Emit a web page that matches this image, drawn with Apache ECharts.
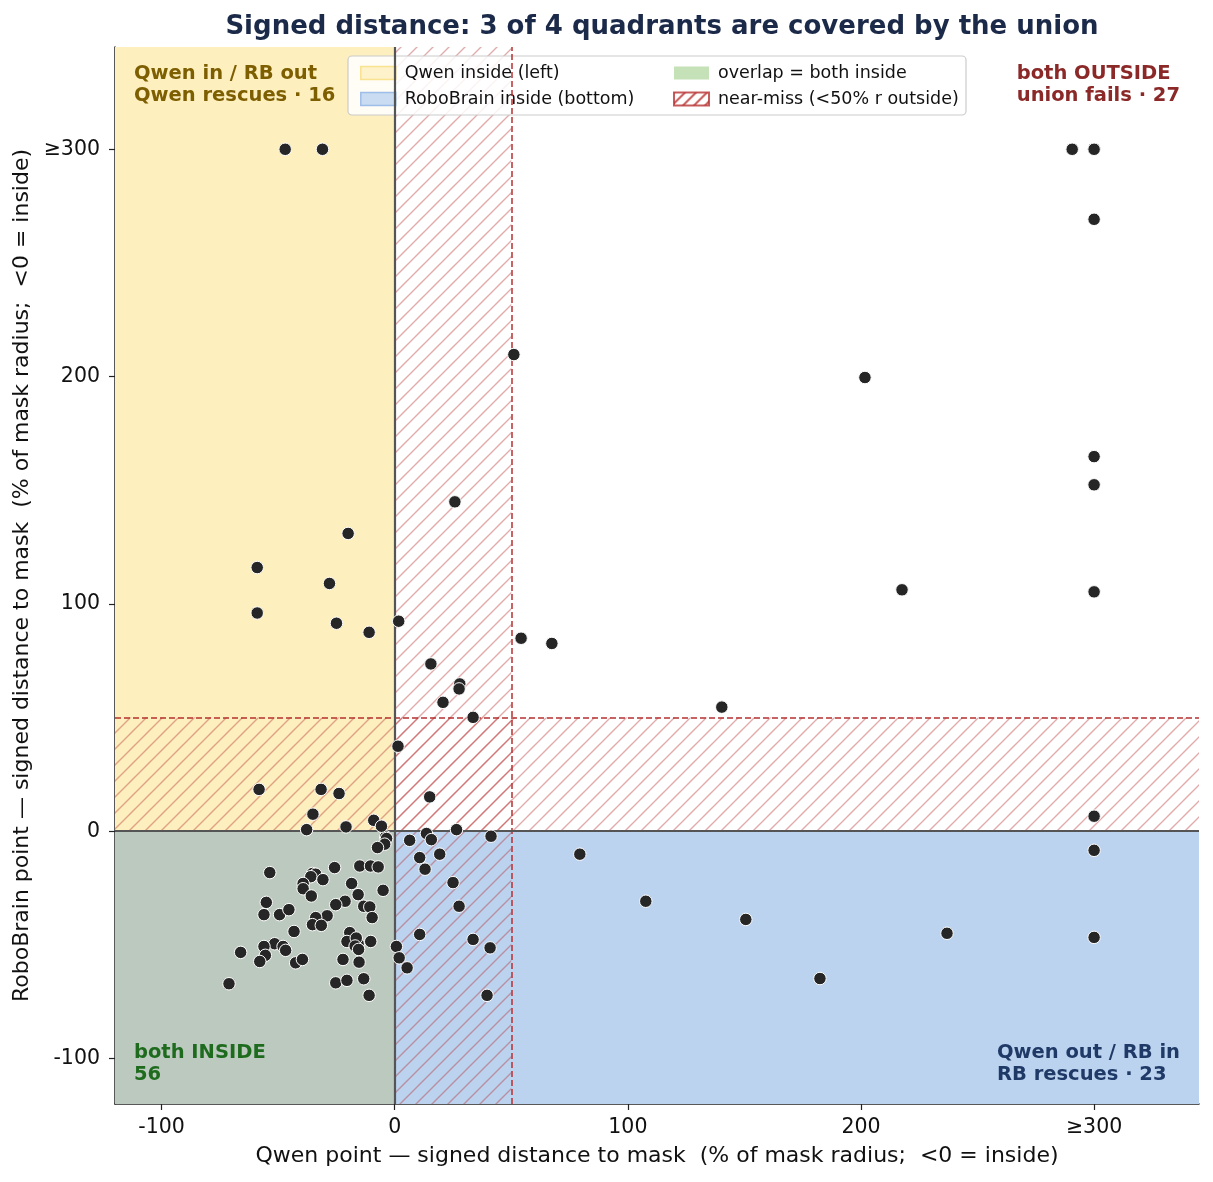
<!DOCTYPE html>
<html>
<head>
<meta charset="utf-8">
<title>Signed distance quadrants</title>
<script src="https://cdn.jsdelivr.net/npm/echarts@6/dist/echarts.min.js"></script>
<style>
  html, body { margin: 0; padding: 0; background: #fff; }
  #chart { width: 1213px; height: 1182px; }
</style>
</head>
<body>
<div id="chart"></div>
<script>
// points as [qwen, robobrain] signed distance (% of mask radius), clipped at 300
const bothInside = [
    [-3.9, -2.5], [-3.5, -3.2], [-4.3, -5.7], [-7.4, -7.2], [-53.6, -18.2], [-25.8, -16.0],
    [-15.0, -15.3], [-10.4, -15.3], [-7.1, -15.7], [-35.3, -18.6], [-33.9, -18.9], [-36.0, -20.0],
    [-30.8, -21.3], [-39.3, -23.0], [-39.3, -25.3], [-35.8, -28.5], [-18.5, -23.0], [-15.7, -27.9],
    [-5.0, -26.0], [-21.3, -30.8], [-25.3, -32.3], [-13.3, -33.0], [-10.7, -33.3], [-9.7, -38.0],
    [-55.1, -31.3], [-56.1, -36.7], [-49.4, -36.7], [-45.4, -34.5], [-29.0, -37.2], [-33.9, -38.0],
    [-35.3, -41.1], [-31.5, -41.4], [-43.2, -44.1], [-19.3, -44.6], [-20.5, -48.5], [-15.7, -49.6],
    [-16.5, -47.0], [-17.0, -50.5], [-15.5, -52.0], [-10.3, -48.5], [-51.5, -49.5], [-56.1, -50.7],
    [-47.9, -50.7], [-46.8, -52.4], [-66.1, -53.3], [-55.5, -54.6], [-57.9, -57.3], [-42.5, -57.9],
    [-39.6, -56.4], [-22.2, -56.4], [-15.3, -57.6], [-71.1, -67.1], [-25.3, -66.7], [-20.5, -65.6],
    [-13.3, -64.9], [-11.0, -72.2]
];
const qwenRescues = [
    [-47, 300], [-31, 300], [-59, 116], [-59, 96], [-20, 131], [-28, 109], [-25, 91.5], [-11, 87.5],
    [-58.2, 18.4], [-31.6, 18.4], [-23.9, 16.6], [-35.1, 7.5], [-37.8, 0.7], [-20.9, 1.9],
    [-9.0, 4.8], [-5.7, 2.2]
];
const rbRescues = [
    [13.6, -1.0], [15.7, -3.7], [6.4, -4.0], [41.3, -2.2], [10.7, -11.6], [19.3, -10.1],
    [13.0, -16.7], [25.0, -22.6], [27.6, -33.0], [10.7, -45.4], [33.6, -47.6], [40.9, -51.3],
    [0.7, -50.7], [1.9, -55.7], [5.3, -60.1], [39.6, -72.2], [79.4, -10.1], [107.7, -30.8],
    [150.6, -38.8], [182.4, -64.8], [236.9, -44.9], [300, -8.4], [300, -46.7]
];
const bothOutside = [
    [300, 300], [300, 300], [300, 300], [290.6, 300], [290.6, 300], [300, 269.2], [51.1, 209.7],
    [201.7, 199.6], [300, 164.8], [300, 152.4], [25.8, 144.9], [217.6, 106.2], [300, 105.3],
    [1.7, 92.4], [54.2, 84.9], [67.4, 82.6], [15.5, 73.6], [27.9, 64.8], [27.6, 62.6],
    [20.7, 56.7], [33.6, 50.1], [140.3, 54.6], [1.4, 37.4], [300, 6.6], [15.0, 15.1],
    [26.5, 0.7], [300, 300]
];
const tickValues = [-100, 0, 100, 200, 300];
const axisMin = -120;
const axisMax = 345;
const nearMiss = 50;

const FONT = "'DejaVu Sans', 'Noto Sans', sans-serif";

function makeHatch(color, size, lw, bg) {
    const c = document.createElement('canvas');
    c.width = size;
    c.height = size;
    const g = c.getContext('2d');
    if (bg) {
        g.fillStyle = bg;
        g.fillRect(0, 0, size, size);
    }
    g.strokeStyle = color;
    g.lineWidth = lw;
    g.beginPath();
    g.moveTo(0, size); g.lineTo(size, 0);
    g.moveTo(-size / 2, size / 2); g.lineTo(size / 2, -size / 2);
    g.moveTo(size / 2, size * 1.5); g.lineTo(size * 1.5, size / 2);
    g.stroke();
    return { image: c, repeat: 'repeat' };
}

const hatchFill = makeHatch('rgba(178,34,34,0.38)', 16, 1.4);
const hatchIcon = makeHatch('#b83232', 11, 2, '#ffffff');

const tickLabel = v => (v >= 300 ? '\u2265300' : String(v));

function initChart() {
    const dom = document.getElementById('chart');
    const chart = echarts.init(dom);

    const legendText = { fontFamily: FONT, fontSize: 17.5, color: '#111', padding: [0, 0, 0, 4] };

    const option = {
        animation: false,
        backgroundColor: '#ffffff',
        title: {
            text: 'Signed distance: 3 of 4 quadrants are covered by the union',
            left: 657,
            top: 9,
            textAlign: 'center',
            textStyle: { fontFamily: FONT, fontSize: 26, fontWeight: 'bold', color: '#1c2a4a' }
        },
        grid: { left: 115, right: 14, top: 47, bottom: 78 },
        legend: [
            {
                orient: 'vertical', left: 355, top: 59, itemGap: 8,
                itemWidth: 35, itemHeight: 13, icon: 'rect', selectedMode: false,
                textStyle: legendText,
                data: [
                    { name: 'Qwen inside (left)', itemStyle: { color: '#fdefbe', borderColor: '#f8dc7c', borderWidth: 1.5 } },
                    { name: 'RoboBrain inside (bottom)', itemStyle: { color: '#bcd3f0', borderColor: '#8cb2e6', borderWidth: 1.5 } }
                ]
            },
            {
                orient: 'vertical', left: 668, top: 59, itemGap: 8,
                itemWidth: 35, itemHeight: 13, icon: 'rect', selectedMode: false,
                textStyle: legendText,
                data: [
                    { name: 'overlap = both inside', itemStyle: { color: '#b5d9a5', borderWidth: 0 } },
                    { name: 'near-miss (<50% r outside)', itemStyle: { color: hatchIcon, borderColor: '#b83232', borderWidth: 2 } }
                ]
            }
        ],
        xAxis: {
            type: 'value', min: axisMin, max: axisMax,
            name: 'Qwen point \u2014 signed distance to mask  (% of mask radius;  <0 = inside)',
            nameLocation: 'middle', nameGap: 41,
            nameTextStyle: { fontFamily: FONT, fontSize: 22, color: '#111' },
            splitLine: { show: false },
            axisLine: { show: true, onZero: false, lineStyle: { color: '#222', width: 1.5 } },
            axisTick: { show: true, length: 6, customValues: tickValues, lineStyle: { color: '#222', width: 1.2 } },
            axisLabel: { customValues: tickValues, margin: 13, formatter: tickLabel, fontFamily: FONT, fontSize: 20.5, color: '#111' }
        },
        yAxis: {
            type: 'value', min: axisMin, max: axisMax,
            name: 'RoboBrain point \u2014 signed distance to mask  (% of mask radius;  <0 = inside)',
            nameLocation: 'middle', nameGap: 81,
            nameTextStyle: { fontFamily: FONT, fontSize: 22, color: '#111' },
            splitLine: { show: false },
            axisLine: { show: true, onZero: false, lineStyle: { color: '#222', width: 1.5 } },
            axisTick: { show: true, length: 6, customValues: tickValues, lineStyle: { color: '#222', width: 1.2 } },
            axisLabel: { customValues: tickValues, margin: 15, formatter: tickLabel, fontFamily: FONT, fontSize: 20.5, color: '#111' }
        },
        graphic: [
            {
                type: 'rect', z: 3, silent: true,
                shape: { x: 348, y: 56, width: 618, height: 59, r: 4 },
                style: { fill: 'rgba(255,255,255,0.85)', stroke: '#cccccc', lineWidth: 1.2 }
            },
            {
                type: 'text', left: 134, top: 63, z: 6,
                style: { text: 'Qwen in / RB out\nQwen rescues \u00b7 16', font: 'bold 19.5px ' + FONT, fill: '#7d5e00', lineHeight: 22 }
            },
            {
                type: 'text', right: 33, top: 63, z: 6,
                style: { text: 'both OUTSIDE\nunion fails \u00b7 27', font: 'bold 19.5px ' + FONT, fill: '#8b2828', lineHeight: 22, align: 'right' }
            },
            {
                type: 'text', left: 134, top: 1042, z: 6,
                style: { text: 'both INSIDE\n56', font: 'bold 19.5px ' + FONT, fill: '#1e6b1e', lineHeight: 22 }
            },
            {
                type: 'text', right: 33, top: 1042, z: 6,
                style: { text: 'Qwen out / RB in\nRB rescues \u00b7 23', font: 'bold 19.5px ' + FONT, fill: '#1f3a66', lineHeight: 22, align: 'right' }
            }
        ],
        series: [
            {
                name: 'Qwen inside (left)', type: 'scatter', data: [], z: 1,
                itemStyle: { color: '#fdefbe' },
                markArea: {
                    silent: true, itemStyle: { color: '#fdefbe' },
                    data: [[{ xAxis: axisMin, yAxis: 0 }, { xAxis: 0, yAxis: axisMax }]]
                }
            },
            {
                name: 'RoboBrain inside (bottom)', type: 'scatter', data: [], z: 1,
                itemStyle: { color: '#bcd3f0' },
                markArea: {
                    silent: true, itemStyle: { color: '#bcd3f0' },
                    data: [[{ xAxis: 0, yAxis: axisMin }, { xAxis: axisMax, yAxis: 0 }]]
                }
            },
            {
                name: 'overlap = both inside', type: 'scatter', data: [], z: 1,
                itemStyle: { color: '#b5d9a5' },
                markArea: {
                    silent: true, itemStyle: { color: '#bcc9bf' },
                    data: [[{ xAxis: axisMin, yAxis: axisMin }, { xAxis: 0, yAxis: 0 }]]
                }
            },
            {
                name: 'near-miss (<50% r outside)', type: 'scatter', data: [], z: 2,
                itemStyle: { color: '#b83232' },
                markArea: {
                    silent: true, itemStyle: { color: hatchFill },
                    data: [
                        [{ xAxis: 0, yAxis: axisMin }, { xAxis: nearMiss, yAxis: axisMax }],
                        [{ xAxis: axisMin, yAxis: 0 }, { xAxis: axisMax, yAxis: nearMiss }]
                    ]
                }
            },
            {
                type: 'scatter', data: [], z: 3,
                markLine: {
                    silent: true, symbol: 'none', label: { show: false },
                    data: [
                        { xAxis: nearMiss, lineStyle: { color: '#b53030', width: 1.5, type: [6, 3] } },
                        { yAxis: nearMiss, lineStyle: { color: '#b53030', width: 1.5, type: [6, 3] } },
                        { xAxis: 0, lineStyle: { color: '#555555', width: 2.2, type: 'solid' } },
                        { yAxis: 0, lineStyle: { color: '#555555', width: 2.2, type: 'solid' } }
                    ]
                }
            },
            {
                type: 'scatter', z: 10,
                symbolSize: 12.5,
                itemStyle: { color: '#262626', borderColor: '#ffffff', borderWidth: 1, opacity: 1 },
                data: [].concat(bothInside, qwenRescues, rbRescues, bothOutside)
            }
        ]
    };

    chart.setOption(option);
    window.addEventListener('resize', () => chart.resize());
}

document.addEventListener('DOMContentLoaded', initChart);
</script>
</body>
</html>
